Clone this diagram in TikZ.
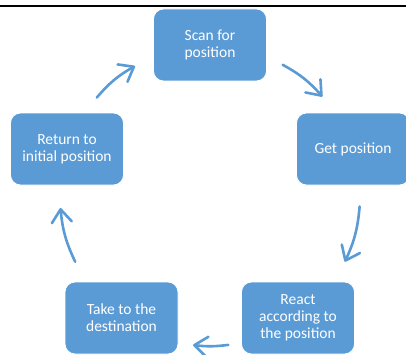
\documentclass[tikz,border=0pt]{standalone}
\usepackage{fontspec}
\setmainfont{Carlito}
\usetikzlibrary{arrows.meta}
\definecolor{boxblue}{RGB}{91,155,213}

\begin{document}
\begin{tikzpicture}[x=1pt,y=1pt,
  stepbox/.style={draw=white,line width=0.8pt,fill=boxblue,rounded corners=10pt,
    minimum width=113pt,minimum height=72pt,inner sep=0pt,align=center,
    text=white,font=\fontsize{15.5}{17}\selectfont},
  cyc/.style={draw=boxblue,line width=2.6pt,line cap=round,
    -{Straight Barb[length=13pt,width=20pt,line cap=round,line join=round]}}]
\useasboundingbox (0,0) rectangle (406,354);
\draw[line width=1.8pt] (0,348) -- (406,348);
% the five steps
\node[stepbox] (scan) at (210,309) {Scan for\\position};
\node[stepbox] (get) at (353,205) {Get position};
\node[stepbox] (react) at (298,36) {React\\according to\\the position};
\node[stepbox] (take) at (121.5,36) {Take to the\\destination};
\node[stepbox] (ret) at (67,205) {Return to\\initial position};
% arrows on the circle
\coordinate (o) at (210,158);
\path (o) ++(139:150) coordinate (s1) (o) ++(120:150) coordinate (e1);
\path (o) ++(61:150) coordinate (s2) (o) ++(41.5:150) coordinate (e2);
\path (o) ++(-4:150) coordinate (s3) (o) ++(-26:150) coordinate (e3);
\path (o) ++(-83:150) coordinate (s4) (o) ++(-96.5:150) coordinate (e4);
\path (o) ++(206:150) coordinate (s5) (o) ++(184.6:150) coordinate (e5);
\draw[cyc] (s1) to[bend left=10] (e1);
\draw[cyc] (s2) to[bend left=10] (e2);
\draw[cyc] (s3) to[bend left=10] (e3);
\draw[cyc] (s4) to[bend left=7] (e4);
\draw[cyc] (s5) to[bend left=10] (e5);
\end{tikzpicture}
\end{document}
